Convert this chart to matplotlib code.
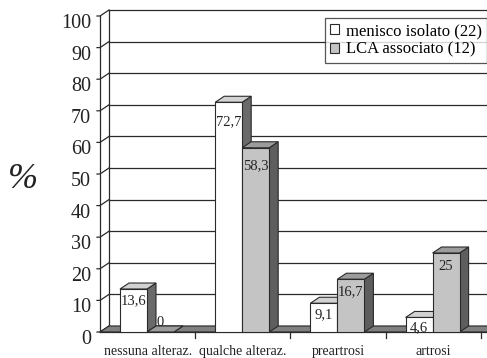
import matplotlib
matplotlib.use('Agg')
import matplotlib.pyplot as plt
import matplotlib.transforms as mtransforms
from matplotlib.patches import Polygon, Patch

# data
categories = ['nessuna alteraz.', 'qualche alteraz.', 'preartrosi', 'artrosi']
menisco = [13.6, 72.7, 9.1, 4.6]
lca = [0, 58.3, 16.7, 25]
series_names = ['menisco isolato (22)', 'LCA associato (12)']
yticks = list(range(0, 101, 10))

plt.rcParams['font.family'] = ['Liberation Serif', 'DejaVu Serif']

W, H, DPI = 487, 358, 100
fig = plt.figure(figsize=(W / DPI, H / DPI), dpi=DPI)

# front plane of the 3d box, in pixels
x0, y0, x1, y1 = 100, 332, 487, 16
cat_w = 95.2
ax = fig.add_axes([x0 / W, (H - y0) / H, (x1 - x0) / W, (y0 - y1) / H])
xmax = (x1 - x0) / cat_w
ax.set_xlim(0, xmax)
ax.set_ylim(0, 100)
ax.axis('off')

# depth of the box in pixels and data units
DXP, DYP = 9, 6
px_y = (y0 - y1) / 100
ddx = DXP / cat_w
ddy = DYP / px_y
back = ax.transData + mtransforms.ScaledTranslation(DXP / DPI, DYP / DPI, fig.dpi_scale_trans)

line_c = '#2a2a2a'
lw = 0.9

# back wall gridlines
for v in yticks:
    ax.plot([0, xmax], [v, v], color=line_c, lw=lw, transform=back, clip_on=False, zorder=1)

# left wall
ax.plot([0, 0], [0, 100], color=line_c, lw=lw, clip_on=False, zorder=1)
ax.plot([0, 0], [0, 100], color=line_c, lw=lw, transform=back, clip_on=False, zorder=1)
lab_tr = ax.transData + mtransforms.ScaledTranslation(-9 / DPI, -12 / DPI, fig.dpi_scale_trans)
for v in yticks:
    ax.plot([-3 / cat_w, 0, ddx], [v, v, v + ddy], color=line_c, lw=lw, clip_on=False, zorder=1)
    ax.text(0, v, str(v), transform=lab_tr, ha='right', va='baseline', fontsize=14.5, color='#222')

# floor
floor = Polygon([(0, 0), (xmax, 0), (xmax + ddx, ddy), (ddx, ddy)], closed=True,
                facecolor='#808080', edgecolor=line_c, lw=0.8, clip_on=False, zorder=2)
ax.add_patch(floor)
ax.plot([0, xmax], [0, 0], color=line_c, lw=lw, clip_on=False, zorder=2)
for i in range(1, len(categories) + 1):
    ax.plot([i, i], [0, -6 / px_y], color=line_c, lw=lw, clip_on=False, zorder=2)

cat_tr = ax.transData + mtransforms.ScaledTranslation(0, -23 / DPI, fig.dpi_scale_trans)
for i, c in enumerate(categories):
    ax.text(i + 0.5, 0, c, transform=cat_tr, ha='center', va='baseline', fontsize=10, color='#222')

# bars
bar_w = 27 / cat_w
styles = [
    dict(front='#ffffff', top='#d2d2d2', side='#6a6a6a'),
    dict(front='#c4c4c4', top='#9c9c9c', side='#5e5e5e'),
]
z = 3
for i in range(len(categories)):
    for s, vals in enumerate([menisco, lca]):
        v = vals[i]
        st = styles[s]
        left = i + 0.21 + s * bar_w
        right = left + bar_w
        side = Polygon([(right, 0), (right, v), (right + ddx, v + ddy), (right + ddx, ddy)],
                       closed=True, facecolor=st['side'], edgecolor=line_c, lw=0.8, zorder=z)
        top = Polygon([(left, v), (right, v), (right + ddx, v + ddy), (left + ddx, v + ddy)],
                      closed=True, facecolor=st['top'], edgecolor=line_c, lw=0.8, zorder=z)
        ax.add_patch(side)
        ax.add_patch(top)
        ax.bar(left, v, width=bar_w, align='edge', color=st['front'], edgecolor=line_c,
               lw=0.8, zorder=z)
        label = f'{v:g}'.replace('.', ',')
        off = -(10 + 0.13 * v) if v > 0 else 10
        ax.annotate(label, (left + bar_w / 2, v), xytext=(0, off * 72 / DPI),
                    textcoords='offset points', ha='center', va='center',
                    fontsize=10.5, color='#222', zorder=z + 0.5)
        z += 1

# legend
handles = [Patch(facecolor=styles[0]['front'], edgecolor=line_c, lw=0.8),
           Patch(facecolor=styles[1]['front'], edgecolor=line_c, lw=0.8)]
leg = fig.legend(handles, series_names, loc='upper left', bbox_to_anchor=(325 / W, 1 - 18 / H),
                 fontsize=12, frameon=True, fancybox=False, handlelength=0.55, handleheight=0.55,
                 handletextpad=0.4, borderpad=0.3, labelspacing=0.15, borderaxespad=0)
leg.get_frame().set_edgecolor(line_c)
leg.get_frame().set_linewidth(0.9)
leg.set_zorder(20)

fig.text(23 / W, 1 - 180 / H, '%', fontsize=26, style='italic', ha='center', va='center', color='#222')

fig.savefig('out.png', dpi=DPI)
